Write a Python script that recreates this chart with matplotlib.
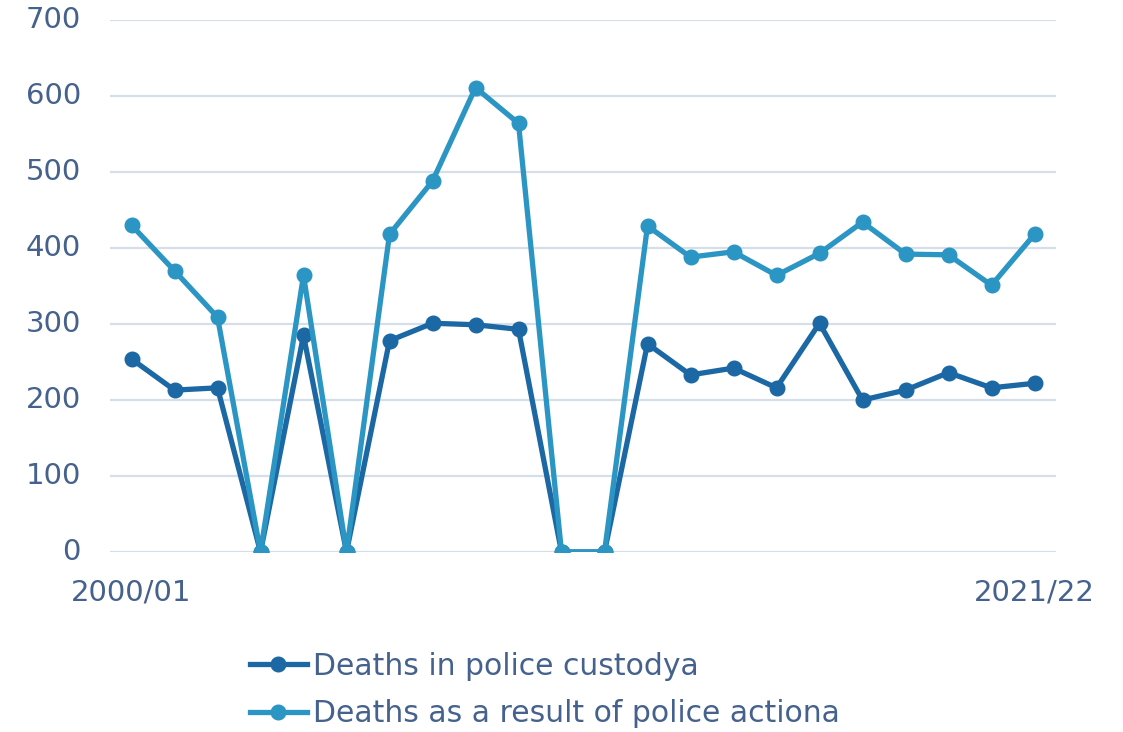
import numpy as np
import matplotlib.pyplot as plt

plt.rcParams['font.family'] = ['DejaVu Sans']

# data
years = ['2000/01', '2001/02', '2002/03', '2003/04', '2004/05', '2005/06', '2006/07',
         '2007/08', '2008/09', '2009/10', '2010/11', '2011/12', '2012/13', '2013/14',
         '2014/15', '2015/16', '2016/17', '2017/18', '2018/19', '2019/20', '2020/21',
         '2021/22']
custody = [254, 213, 216, 0, 285, 0, 278, 301, 299, 293, 0, 0,
           274, 233, 242, 216, 301, 200, 213, 236, 216, 222]
action = [430, 370, 309, 0, 364, 0, 418, 488, 611, 564, 0, 0,
          429, 388, 395, 364, 393, 434, 392, 391, 351, 418]

c_custody = '#1b68a4'
c_action = '#2b95c3'
txt = '#45618d'

fig = plt.figure(figsize=(11.23, 7.32), dpi=100)
ax = fig.add_axes([110 / 1123, 1 - 552 / 732, 946 / 1123, 532 / 732])

x = np.arange(len(years))
ax.plot(x, custody, color=c_custody, lw=3.8, marker='o', ms=10.5,
        label='Deaths in police custodya', zorder=3)
ax.plot(x, action, color=c_action, lw=3.8, marker='o', ms=10.5,
        label='Deaths as a result of police actiona', zorder=3)

ax.set_xlim(-0.5, len(years) - 0.5)
ax.set_ylim(0, 700)
ax.set_yticks(range(0, 701, 100))
ax.set_xticks([0, len(years) - 1])
ax.set_xticklabels([years[0], years[-1]])
ax.grid(axis='y', color='#d6deea', lw=1.6)
ax.set_axisbelow(True)
for s in ax.spines.values():
    s.set_visible(False)
ax.tick_params(length=0, labelsize=21, labelcolor=txt)
ax.tick_params(axis='y', pad=21)
ax.tick_params(axis='x', pad=19)
for lab in ax.get_yticklabels():
    lab.set_verticalalignment('center')

fig.legend(loc='upper left', bbox_to_anchor=(238 / 1123, 1 - 640 / 732),
           frameon=False, fontsize=21.5, labelcolor=txt, handlelength=1.9,
           handletextpad=0.2, labelspacing=0.62, borderaxespad=0)

fig.savefig('out.png', dpi=100)
